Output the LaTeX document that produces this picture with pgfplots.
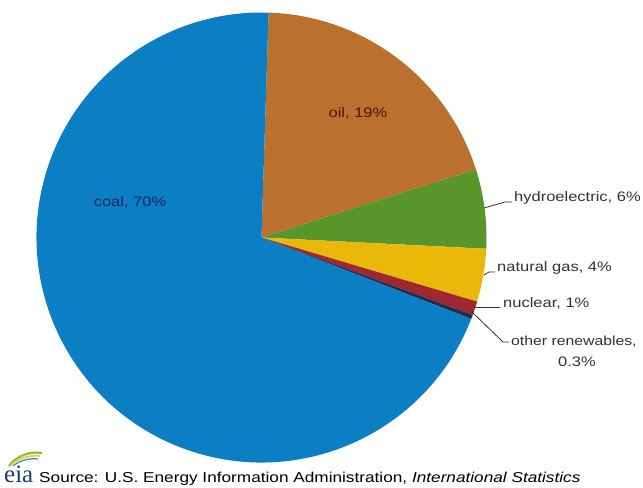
\documentclass[border=0pt]{standalone}
\usepackage{pgfplots}
\pgfplotsset{compat=1.18}
\usepackage{pgfplotstable}
\usepackage{fontspec}
\setmainfont{Liberation Sans}[FakeStretch=1.2]
\newfontfamily\seriffont{Liberation Serif}
\definecolor{coalc}{RGB}{12,126,196}
\definecolor{oilc}{RGB}{186,112,46}
\definecolor{hydroc}{RGB}{88,150,44}
\definecolor{gasc}{RGB}{234,184,8}
\definecolor{nucc}{RGB}{160,38,50}
\definecolor{otherc}{RGB}{30,45,80}
\definecolor{lblgray}{RGB}{50,50,50}
\definecolor{eiablue}{RGB}{30,60,110}
\definecolor{coaltext}{RGB}{20,40,90}
\definecolor{oiltext}{RGB}{80,20,10}
\definecolor{swgreen}{RGB}{140,190,60}
\definecolor{swyellow}{RGB}{240,200,40}
\definecolor{swblue}{RGB}{40,140,200}
\pgfplotstableread[col sep=comma]{
name,value
oil,19.6
hydroelectric,5.7
natural gas,3.8
nuclear,1.0
other renewables,0.3
coal,69.6
}\piedata
\begin{document}
\begin{tikzpicture}
\begin{axis}[
  width=643bp, height=488bp, scale only axis,
  xmin=0, xmax=643, ymin=0, ymax=488,
  axis lines=none, ticks=none, clip=false,
]
\pgfplotsextra{
  \gdef\curang{88.2}
  \foreach \i/\col in {0/oilc,1/hydroc,2/gasc,3/nucc,4/otherc,5/coalc}{
    \pgfplotstablegetelem{\i}{value}\of\piedata
    \pgfmathsetmacro\endang{\curang-3.6*\pgfplotsretval}
    \fill[\col] (axis cs:261.5,250.5) -- ++(\curang:225bp)
      arc[start angle=\curang, end angle=\endang, radius=225bp] -- cycle;
    \xdef\curang{\endang}
  }
}
% internal labels
\node[font=\fontsize{13.8}{16}\selectfont, text=coaltext] at (axis cs:130,286) {coal, 70\%};
\node[font=\fontsize{13.8}{16}\selectfont, text=oiltext] at (axis cs:358,375) {oil, 19\%};
% leader lines
\draw[lblgray, line width=0.8pt] (axis cs:484,280) -- (axis cs:505,286) -- (axis cs:512,286);
\draw[lblgray, line width=0.8pt] (axis cs:484,213) -- (axis cs:489,216) -- (axis cs:495,216);
\draw[lblgray, line width=0.8pt] (axis cs:474,181) -- (axis cs:500,181);
\draw[lblgray, line width=0.8pt] (axis cs:471,177) -- (axis cs:503,146) -- (axis cs:509,146);
% external labels
\begin{scope}[every node/.style={font=\fontsize{13.8}{16}\selectfont, text=lblgray, inner sep=0pt}]
\node[anchor=west] at (axis cs:514,290) {hydroelectric, 6\%};
\node[anchor=west] at (axis cs:497,220) {natural gas, 4\%};
\node[anchor=west] at (axis cs:503,185) {nuclear, 1\%};
\node[anchor=west] at (axis cs:511,146) {\fontsize{13.2}{16}\selectfont other renewables,};
\node[anchor=center] at (axis cs:577,126) {0.3\%};
\end{scope}
% source line
\draw[line width=2.2pt, swgreen] (axis cs:9,22) .. controls (axis cs:16,32) and (axis cs:30,37) .. (axis cs:42,35);
\draw[line width=1.6pt, swyellow] (axis cs:11,23) .. controls (axis cs:18,30) and (axis cs:30,33) .. (axis cs:40,32);
\draw[line width=1.2pt, swblue] (axis cs:13,22) .. controls (axis cs:20,28) and (axis cs:30,30) .. (axis cs:38,29);
\node[anchor=base west, inner sep=0pt, text=eiablue, font=\seriffont\fontsize{25}{25}\selectfont] at (axis cs:4,5) {eia};
\node[anchor=base west, inner sep=0pt, text=black, font=\fontsize{14.4}{16}\selectfont] at (axis cs:39,5) {Source: U.S. Energy Information Administration, \textit{International Statistics}};
\end{axis}
\pgfresetboundingbox
\useasboundingbox (current axis.south west) rectangle (current axis.north east);
\end{tikzpicture}
\end{document}
